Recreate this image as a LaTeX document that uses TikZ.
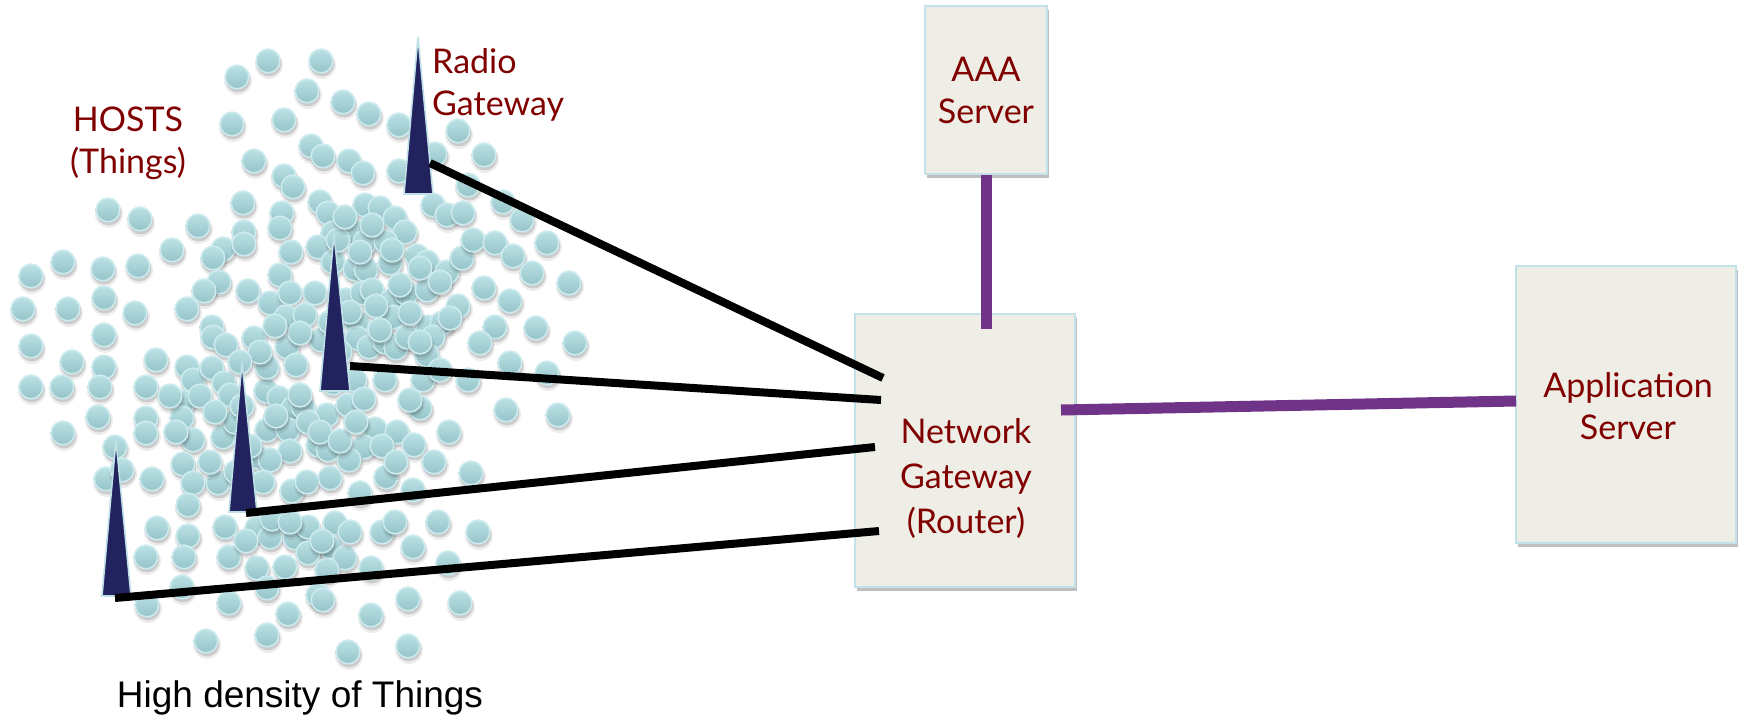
\documentclass[tikz,border=0pt]{standalone}
\usepackage{fontspec}
\setmainfont{Lato}
\newfontfamily\captionfont{Liberation Sans}
\usetikzlibrary{shadows}

\definecolor{labelred}{RGB}{128,0,0}
\definecolor{boxfill}{RGB}{239,238,230}
\definecolor{boxedge}{RGB}{192,226,232}
\definecolor{linkpurple}{RGB}{111,51,136}
\definecolor{towerblue}{RGB}{34,34,94}
\definecolor{toweredge}{RGB}{190,224,230}
\definecolor{dotlight}{RGB}{188,227,230}
\definecolor{dotdark}{RGB}{148,194,200}
\definecolor{dotrim}{RGB}{206,236,239}

\begin{document}
\begin{tikzpicture}[x=1pt,y=-1pt,
  box/.style={draw=boxedge, line width=1.3pt, fill=boxfill, inner sep=0pt,
    drop shadow={shadow xshift=2pt, shadow yshift=-4pt, opacity=0.25, fill=black}},
  boxtext/.style={text=labelred, align=center, inner sep=0pt,
    font=\fontsize{34}{42}\selectfont},
  tower/.style={fill=towerblue, draw=toweredge, line width=1.6pt, line join=miter},
  radiolink/.style={draw=black, line width=8pt},
  backbone/.style={draw=linkpurple, line width=11pt}]

\useasboundingbox (0,0) rectangle (1738,716);

% the cloud of things
\foreach \x/\y in {
 237/77,268/61,232/124,284/120,254/161,284/176,293/187,
 321/61,307/91,343/102,369/114,399/125,458/131,311/146,323/156,349/161,363/173,
 399/171,435/154,484/155,468/185,
 108/210,140/219,198/226,243/203,172/250,63/262,31/276,103/269,138/266,223/249,
 213/258,244/232,244/244,282/213,280/228,291/252,280/275,219/282,204/291,248/291,
 270/303,290/293,286/317,23/309,68/309,104/298,135/313,187/309,212/327,213/337,
 226/345,254/338,287/347,104/335,31/346,
 320/202,328/213,365/205,380/208,395/218,405/232,433/205,447/215,463/213,503/202,
 522/220,333/233,353/232,365/242,386/242,318/247,333/262,355/269,366/270,390/263,
 417/256,427/262,447/272,462/258,473/240,495/243,513/256,547/243,532/273,569/283,
 484/288,510/301,315/293,346/300,362/293,372/290,391/301,406/293,427/290,458/306,
 305/315,357/323,393/317,428/327,442/323,495/327,536/328,321/340,357/338,369/347,
 385/342,396/348,407/337,433/337,480/343,575/343,427/355,
 72/362,104/367,156/360,31/387,62/387,100/387,146/387,187/367,193/380,212/368,
 224/383,183/402,182/418,146/418,146/433,98/417,63/433,115/447,193/440,223/437,
 235/422,230/395,266/391,279/398,293/408,267/430,288/430,290/451,257/457,270/460,
 183/464,193/483,106/479,122/470,152/479,188/505,218/483,263/482,292/491,296/365,267/367,
 333/383,355/380,385/380,423/380,440/370,468/380,510/363,547/373,303/407,327/415,
 348/405,364/399,420/408,410/400,506/410,558/415,308/422,375/429,397/432,449/432,
 364/447,414/445,318/445,328/450,349/460,434/462,471/473,307/482,330/478,386/477,
 413/490,360/493,
 157/528,188/536,225/527,257/528,270/537,295/538,146/557,184/557,229/557,257/568,
 285/567,182/587,267/588,147/605,229/603,288/614,206/641,267/635,
 308/527,335/523,382/532,395/522,438/522,478/532,330/547,308/553,345/558,413/547,
 371/568,448/563,327/570,318/595,323/600,408/599,460/603,371/615,348/652,408/646,
 338/240,360/252,372/225,345/217,392/250,420/268,440/282,400/285,376/306,350/312,
 330/322,410/313,450/318,420/342,380/330,340/352,300/333,275/326,260/352,240/362,
 200/396,215/412,242/406,250/446,276/416,300/395,320/432,340/441,356/422,382/446,
 396/462,236/472,210/462,176/432,170/396,272/519,246/541,290/522,350/532,322/541}
{
  \fill[black, opacity=0.07] (\x+1,\y+4) circle (14);
  \fill[black, opacity=0.14] (\x+1,\y+3) circle (12.5);
  \shade[top color=dotlight, bottom color=dotdark] (\x,\y) circle (12.5);
  \draw[dotrim, line width=1.5pt] (\x,\y) circle (11.8);
}

% radio gateways
\filldraw[tower] (418,37) -- (433,194) -- (404,194) -- cycle;
\filldraw[tower] (334,234) -- (350,391) -- (320,391) -- cycle;
\filldraw[tower] (242,362) -- (257,512) -- (229,512) -- cycle;
\filldraw[tower] (116,440) -- (131,596) -- (102,596) -- cycle;

\coordinate (g1) at (430,163);
\coordinate (g2) at (350,366);
\coordinate (g3) at (246,513);
\coordinate (g4) at (115,598);

% servers and router
\node[box, minimum width=122pt, minimum height=168pt] (aaa) at (986,90) {};
\node[box, minimum width=220pt, minimum height=273pt] (ng) at (965,450.5) {};
\node[box, minimum width=220pt, minimum height=277pt] (app) at (1626,404.5) {};

\node[boxtext] (aaatext) at (986,90) {AAA\\Server};
\node[boxtext, font=\fontsize{34}{45}\selectfont] (ngtext) at (966,478)
  {Network\\Gateway\\(Router)};
\node[boxtext] (apptext) at (1628,406) {Application\\Server};

% links from the radio gateways into the router
\coordinate (n1) at (883,378);
\coordinate (n2) at (881,400);
\coordinate (n3) at (875,447);
\coordinate (n4) at (879,531);
\draw[radiolink] (g1) -- (n1);
\draw[radiolink] (g2) -- (n2);
\draw[radiolink] (g3) -- (n3);
\draw[radiolink] (g4) -- (n4);

% backbone links
\coordinate (ngtop) at (986,329);
\coordinate (ngright) at (1061,410);
\coordinate (appleft) at (1516,401);
\draw[backbone] (aaa.south -| ngtop) -- (ngtop);
\draw[backbone] (ngright) -- (appleft);

% labels
\node[boxtext] (hosts) at (128,143) {HOSTS\\(Things)};
\node[boxtext, align=left, anchor=west] (radio) at (432,85) {Radio\\Gateway};
\node[font=\captionfont\fontsize{37}{44}\selectfont, anchor=base, inner sep=0pt]
  (density) at (300,707) {High density of Things};
\end{tikzpicture}
\end{document}
